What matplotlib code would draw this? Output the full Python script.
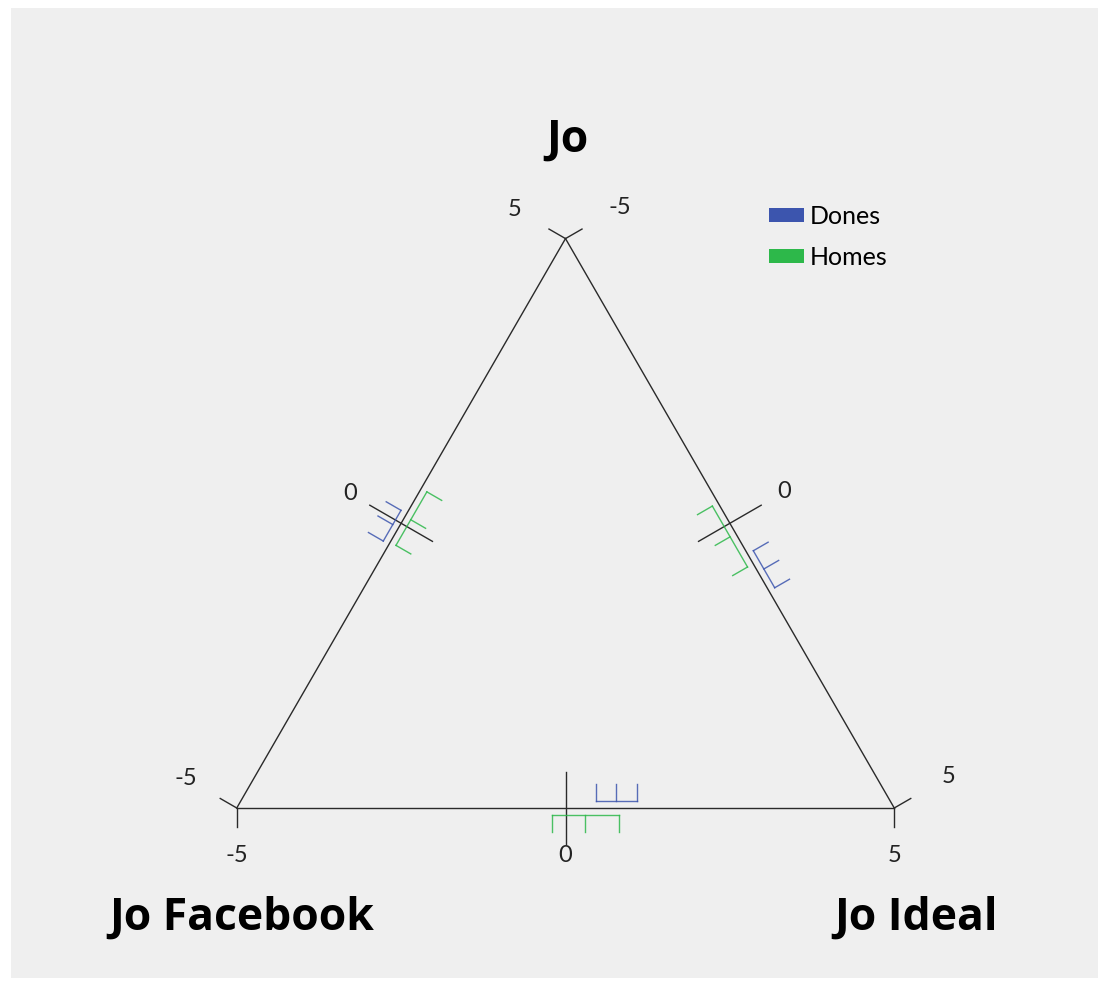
import numpy as np
import matplotlib.pyplot as plt
from matplotlib.patches import Patch, Rectangle

plt.rcParams['font.family'] = ['Lato', 'DejaVu Sans']

# corner names
corner_top = 'Jo'
corner_left = 'Jo Facebook'
corner_right = 'Jo Ideal'

# each edge runs from -5 to 5
tick_values = [-5, 0, 5]

# low / middle / high for every edge
# edges: bottom (Facebook -> Ideal), left (Facebook -> Jo), right (Jo -> Ideal)
dones_low = [0.47, -0.37, 0.54]
dones_mid = [0.77, -0.08, 0.86]
dones_high = [1.08, 0.17, 1.19]
homes_low = [-0.20, -0.33, -0.36]
homes_mid = [0.30, 0.12, 0.18]
homes_high = [0.82, 0.61, 0.71]

series_names = ['Dones', 'Homes']
series_colors = ['#3c55ae', '#2db84a']

BG = '#efefef'
SCALE = 65.75          # pixels per unit
W, H = 1109, 983
X0, Y0 = 565.5, 808    # pixel of bottom middle

fig = plt.figure(figsize=(W / 100, H / 100), dpi=100)
fig.patch.set_facecolor('white')
ax = fig.add_axes([0, 0, 1, 1])
ax.set_facecolor('none')
ax.set_xlim(-X0 / SCALE, (W - X0) / SCALE)
ax.set_ylim((Y0 - H) / SCALE, Y0 / SCALE)
ax.axis('off')
ax.add_patch(Rectangle((11 / W, 1 - 978 / H), (1098 - 11) / W, (978 - 8) / H,
                       transform=ax.transAxes, facecolor=BG, edgecolor='none', zorder=0))

h = 5 * np.sqrt(3)
bl = np.array([-5.0, 0.0])
br = np.array([5.0, 0.0])
top = np.array([0.0, h])

# start, end, outward normal
edges = [
    (bl, br, np.array([0.0, -1.0])),
    (bl, top, np.array([-np.sqrt(3) / 2, 0.5])),
    (top, br, np.array([np.sqrt(3) / 2, 0.5])),
]
label_off = [0.73, 0.9, 0.96]


def point(e, v, d=0.0):
    s, t, n = edges[e]
    u = (t - s) / 10.0
    left = np.array([-u[1], u[0]])
    return s + u * (v + 5) + left * d


for i, (s, t, n) in enumerate(edges):
    ax.plot([s[0], t[0]], [s[1], t[1]], color='#2a2a2a', lw=1.0, zorder=2)
    for v in tick_values:
        p = point(i, v)
        if v == 0:
            a, b = p - n * 0.55, p + n * 0.55
        else:
            a, b = p, p + n * 0.29
        ax.plot([a[0], b[0]], [a[1], b[1]], color='#2a2a2a', lw=1.0, zorder=2)
        q = p + n * label_off[i]
        ax.text(q[0], q[1], '%d' % v if v >= 0 else '-%d' % -v, fontsize=17,
                ha='center', va='center', color='#222222')

# error brackets, blue on the left side of each edge, green on the right
series = [(dones_low, dones_mid, dones_high, 1), (homes_low, homes_mid, homes_high, -1)]
for (lo, mid, hi, side), col in zip(series, series_colors):
    for i in range(3):
        d0 = 0.1 * side
        d1 = 0.36 * side
        a, b = point(i, lo[i], d0), point(i, hi[i], d0)
        ax.plot([a[0], b[0]], [a[1], b[1]], color=col, lw=1.0, alpha=0.85, zorder=3)
        for v in (lo[i], mid[i], hi[i]):
            a, b = point(i, v, d0), point(i, v, d1)
            ax.plot([a[0], b[0]], [a[1], b[1]], color=col, lw=1.0, alpha=0.85, zorder=3)

title_font = dict(fontsize=32, fontweight='bold', family=['Open Sans', 'Lato', 'DejaVu Sans'],
                  ha='center', va='center')
ax.text(top[0] + 0.03, top[1] + 1.5, corner_top, **title_font)
ax.text(bl[0] + 0.08, -1.68, corner_left, **title_font)
ax.text(br[0] + 0.33, -1.68, corner_right, **title_font)

handles = [Patch(facecolor=c, edgecolor='none') for c in series_colors]
fig.legend(handles, series_names, loc='upper left', bbox_to_anchor=(769 / W, 1 - 205 / H),
           frameon=False, fontsize=18, handlelength=1.4, handleheight=0.52,
           handletextpad=0.22, labelspacing=0.72, borderpad=0, borderaxespad=0)

fig.savefig('out.png', dpi=100, facecolor='white')
